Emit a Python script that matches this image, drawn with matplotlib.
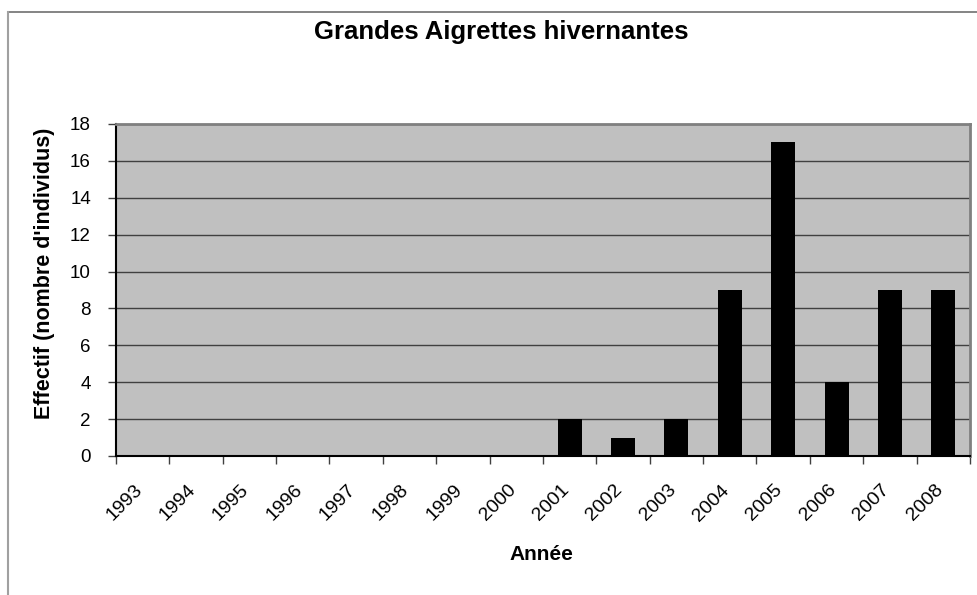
import matplotlib
matplotlib.use("Agg")
import matplotlib.pyplot as plt
from matplotlib.lines import Line2D
import numpy as np

plt.rcParams['font.family'] = ['Liberation Sans', 'DejaVu Sans']

years = [str(y) for y in range(1993, 2009)]
effectif = [0, 0, 0, 0, 0, 0, 0, 0, 2, 1, 2, 9, 17, 4, 9, 9]
y_ticks = list(range(0, 19, 2))

W, H = 978, 595
fig = plt.figure(figsize=(W / 100, H / 100), dpi=100)

# cadre du graphique (type Excel), coupé à droite et en bas
fig.add_artist(Line2D([8 / W, 1.0], [1 - 12 / H, 1 - 12 / H], transform=fig.transFigure,
                      color="#707070", linewidth=1.2))
fig.add_artist(Line2D([8 / W, 8 / W], [0.0, 1 - 12 / H], transform=fig.transFigure,
                      color="#a0a0a0", linewidth=1.5))

left, right, top, bottom = 116, 970, 124, 456
ax = fig.add_axes([left / W, (H - bottom) / H, (right - left) / W, (bottom - top) / H])
ax.set_facecolor("#C0C0C0")

x = np.arange(len(years))
ax.bar(x, effectif, width=0.45, color="black", zorder=3)

ax.set_xlim(-0.5, len(years) - 0.5)
ax.set_ylim(0, 18)
ax.set_yticks(y_ticks)
ax.set_yticklabels([str(t) for t in y_ticks], fontsize=13.5)
ax.yaxis.grid(True, color="#404040", linewidth=1.0, zorder=1)
ax.set_axisbelow(True)

# ticks entre les catégories, libellés au centre
ax.set_xticks(np.arange(-0.5, len(years), 1))
ax.set_xticklabels([])
ax.set_xticks(x, minor=True)
ax.set_xticklabels(years, minor=True, rotation=45, ha="right", va="baseline",
                   rotation_mode="anchor", fontsize=14)
ax.tick_params(axis="x", which="minor", length=0, pad=25)
ax.tick_params(axis="x", which="major", length=6, width=1, color="#404040")
ax.tick_params(axis="y", length=6, width=1, color="#404040", pad=12)

for side in ("top", "right"):
    ax.spines[side].set_color("#808080")
    ax.spines[side].set_linewidth(2)
for side in ("left", "bottom"):
    ax.spines[side].set_color("black")
    ax.spines[side].set_linewidth(1.5)

fig.text(501 / W, 1 - 32 / H, "Grandes Aigrettes hivernantes",
         ha="center", va="center", fontsize=18.5, fontweight="bold")
fig.text(541 / W, 1 - 555 / H, "Année", ha="center", va="center",
         fontsize=15, fontweight="bold")
fig.text(45 / W, 1 - 273 / H, "Effectif (nombre d'individus)", ha="center", va="center",
         rotation=90, fontsize=15.5, fontweight="bold")

fig.savefig("out.png", dpi=100)
